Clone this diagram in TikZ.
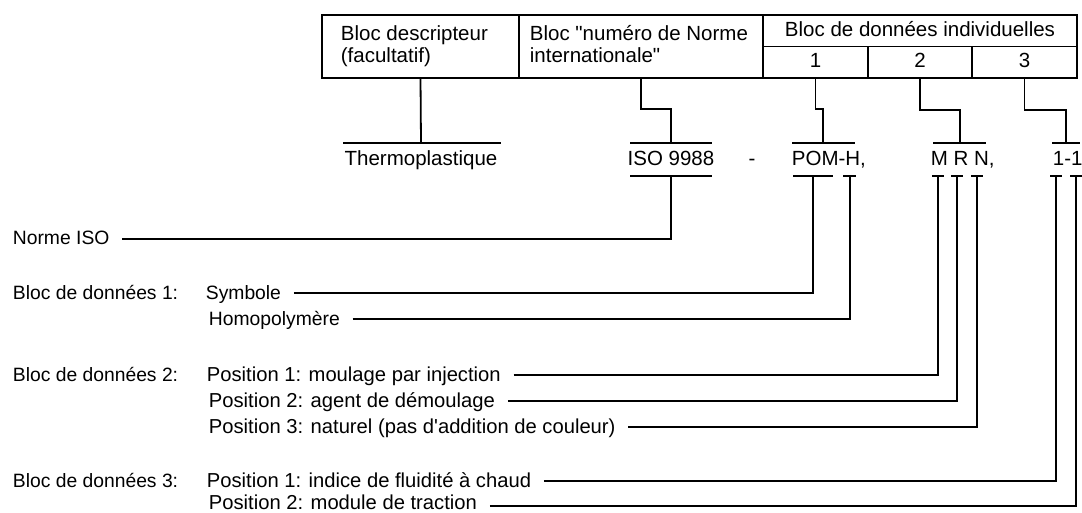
\documentclass[tikz,border=0pt]{standalone}
\usepackage{fontspec}
\newfontfamily\lsans{Liberation Sans}
\begin{document}
\begin{tikzpicture}[x=1pt,y=-1pt,line width=1.8pt,
  cell/.style={draw,line width=1.8pt,inner sep=0pt,outer sep=0pt},
  big/.style={font=\lsans\fontsize{20.5}{24}\selectfont,inner sep=0pt,anchor=base},
  bigw/.style={big,anchor=base west},
  lab/.style={font=\lsans\fontsize{19.3}{23}\selectfont,inner sep=0pt,anchor=base west,text height=12pt,text depth=0pt},
  poslab/.style={lab,font=\lsans\fontsize{20.2}{24}\selectfont},
  conn/.style={line width=1.8pt}]
\useasboundingbox (0,0) rectangle (1082,513);

% table
\node[cell,minimum width=197pt,minimum height=63pt] (c1) at (420.5,46.5) {};
\node[cell,minimum width=244pt,minimum height=63pt] (c2) at (641,46.5) {};
\node[cell,minimum width=314pt,minimum height=31.5pt] (c3) at (920,30.75) {};
\node[cell,minimum width=105pt,minimum height=31.5pt] (s1) at (815.5,62.25) {};
\node[cell,minimum width=104pt,minimum height=31.5pt] (s2) at (920,62.25) {};
\node[cell,minimum width=105pt,minimum height=31.5pt] (s3) at (1024.5,62.25) {};

\node[bigw] (t1a) at (340,41) {Bloc descripteur};
\node[bigw] (t1b) at (340,63) {(facultatif)};
\node[bigw] (t2a) at (529,41) {Bloc "numéro de Norme};
\node[bigw] (t2b) at (529,63) {internationale"};
\node[big] (t3) at (920,37) {Bloc de données individuelles};
\node[big] (n1) at (815.5,68) {1};
\node[big] (n2) at (920,68) {2};
\node[big] (n3) at (1024.5,68) {3};

% designation
\node[big] (thermo) at (421,166) {Thermoplastique};
\node[big] (iso) at (671,166) {ISO 9988};
\node[big] (dash) at (752,166) {-};
\node[bigw] (pom) at (791,166) {POM-H,};
\node[bigw] (mrn) at (930,166) {M R N,};
\node[bigw] (oneone) at (1052,166) {1-1};

% top bars
\coordinate (thT) at (421,143);
\coordinate (isoT) at (671,143);
\coordinate (pomT) at (823,143);
\coordinate (mrnT) at (960,143);
\coordinate (oneT) at (1066,143);
\draw (343,143) -- (501,143);
\draw (630,143) -- (712,143);
\draw (792,143) -- (855,143);
\draw (933,143) -- (986,143);
\draw (1052,143) -- (1080,143);

\draw[conn] (c1.south) -- (thT);
\draw[conn] (c2.south) -- ++(0,31) -| (isoT);
\draw[conn] (s1.south) -- ++(0,31) -| (pomT);
\draw[conn] (s2.south) -- ++(0,32) -| (mrnT);
\draw[conn] (s3.south) -- ++(0,32) -| (oneT);

% bottom bars
\coordinate (isoB) at (671,176);
\coordinate (pomB1) at (813,176);
\coordinate (pomB2) at (850,176);
\coordinate (mrnB1) at (938,176);
\coordinate (mrnB2) at (957,176);
\coordinate (mrnB3) at (977,176);
\coordinate (oneB1) at (1056,176);
\coordinate (oneB2) at (1076,176);
\draw (630,176) -- (712,176);
\draw (793,176) -- (833,176);
\draw (843,176) -- (856,176);
\foreach \c in {mrnB1,mrnB2,mrnB3,oneB1,oneB2}
  \draw ([xshift=-6pt]\c) -- ([xshift=6pt]\c);

% labels
\node[lab] (norme) at (12,245) {Norme ISO};
\node[lab] (b1) at (12,299) {Bloc de données 1:};
\node[lab] (sym) at (205,299) {Symbole};
\node[lab] (homo) at (208,325) {Homopolymère};
\node[lab] (b2) at (12,381) {Bloc de données 2:};
\node[poslab] (p21) at (206,381) {Position 1: moulage par injection};
\node[poslab] (p22) at (208,407) {Position 2: agent de démoulage};
\node[poslab] (p23) at (208,433) {Position 3: naturel (pas d'addition de couleur)};
\node[lab] (b3) at (12,487) {Bloc de données 3:};
\node[poslab] (p31) at (206,487) {Position 1: indice de fluidité à chaud};
\node[poslab,text height=6pt] (p32) at (208,509) {Position 2: module de traction};

\draw[conn] ([xshift=12pt]norme.east) -| (isoB);
\draw[conn] ([xshift=12pt]sym.east) -| (pomB1);
\draw[conn] ([xshift=12pt]homo.east) -| (pomB2);
\draw[conn] ([xshift=12pt]p21.east) -| (mrnB1);
\draw[conn] ([xshift=12pt]p22.east) -| (mrnB2);
\draw[conn] ([xshift=12pt]p23.east) -| (mrnB3);
\draw[conn] ([xshift=12pt]p31.east) -| (oneB1);
\draw[conn] ([xshift=12pt]p32.east) -| (oneB2);
\end{tikzpicture}
\end{document}
